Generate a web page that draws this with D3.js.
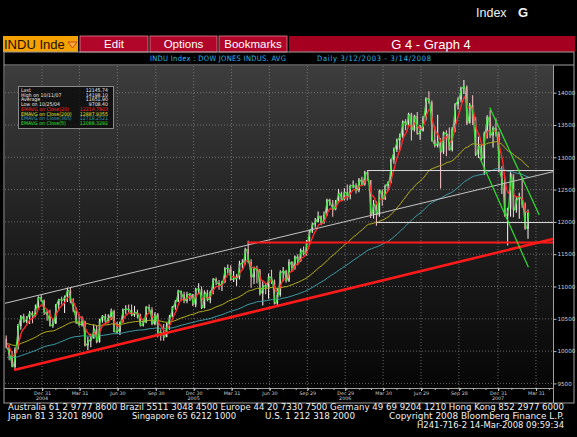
<!DOCTYPE html>
<html>
<head>
<meta charset="utf-8">
<script src="https://cdnjs.cloudflare.com/ajax/libs/d3/7.8.5/d3.min.js"></script>
<style>
body { margin: 0; background: #000; overflow: hidden; }
svg { display: block; }
</style>
</head>
<body>
<svg id="chart" width="577" height="437"></svg>
<script>
// weekly DJIA bars, week ending Fridays from 8 Oct 2004 to 14 Mar 2008
var weekStart = new Date(2004, 9, 8);
var weekStop = new Date(2008, 2, 15);
var firstOpen = 10192;

var closes = [
    10055, 9933, 9757, 10027, 10387, 10539, 10456, 10522, 10592, 10543, 10661, 10828, 10783,
    10603, 10558, 10393, 10427, 10716, 10796, 10785, 10841, 10940, 10774, 10629, 10442, 10404,
    10461, 10087, 10157, 10193, 10345, 10140, 10471, 10542, 10460, 10512, 10623, 10297, 10303,
    10449, 10640, 10651, 10641, 10558, 10600, 10559, 10398, 10447, 10679, 10641, 10420, 10569,
    10292, 10287, 10215, 10402, 10531, 10686, 10766, 10931, 10878, 10778, 10875, 10883, 10718,
    10959, 10959, 10667, 10907, 10793, 10919, 11115, 11061, 11022, 11076, 11279, 11280, 11109,
    11120, 11137, 11347, 11367, 11577, 11380, 11144, 11278, 11247, 10891, 11015, 10989, 11150,
    11091, 10739, 10868, 11219, 11240, 11089, 11381, 11284, 11464, 11392, 11560, 11508, 11679,
    11850, 11960, 12002, 12090, 11987, 12108, 12342, 12280, 12194, 12307, 12445, 12343, 12463,
    12398, 12556, 12566, 12487, 12653, 12580, 12768, 12647, 12114, 12276, 12110, 12481, 12354,
    12560, 12612, 12962, 13121, 13265, 13327, 13557, 13507, 13668, 13424, 13640, 13361, 13409,
    13612, 13908, 13851, 13265, 13182, 13240, 13079, 13379, 13358, 13113, 13442, 13821, 13896,
    14066, 14093, 13522, 13807, 13595, 13043, 13177, 12981, 13372, 13625, 13339, 13450, 13366,
    12800, 12607, 12099, 12207, 12743, 12182, 12348, 12381, 12266, 11894, 12145
];
var highs = [
    10240, 10090, 10000, 10060, 10420, 10560, 10580, 10540, 10620, 10620, 10720, 10850, 10870,
    10800, 10640, 10640, 10500, 10730, 10810, 10840, 10860, 10984, 10980, 10820, 10680, 10570,
    10540, 10470, 10220, 10270, 10410, 10400, 10500, 10560, 10580, 10570, 10660, 10640, 10450,
    10460, 10660, 10710, 10720, 10720, 10700, 10640, 10580, 10500, 10700, 10720, 10680, 10600,
    10590, 10340, 10420, 10440, 10560, 10700, 10790, 10950, 10940, 10920, 10920, 10900, 10880,
    10980, 11050, 11000, 10940, 10950, 10940, 11130, 11140, 11100, 11090, 11300, 11340, 11330,
    11240, 11190, 11400, 11420, 11600, 11709, 11420, 11310, 11320, 11270, 11080, 11060, 11200,
    11260, 11110, 10980, 11250, 11300, 11260, 11420, 11390, 11480, 11500, 11590, 11620, 11720,
    11880, 11990, 12060, 12160, 12100, 12160, 12360, 12360, 12340, 12340, 12510, 12470, 12520,
    12580, 12580, 12640, 12600, 12680, 12700, 12790, 12795, 12650, 12340, 12320, 12500, 12500,
    12580, 12630, 12980, 13150, 13290, 13370, 13570, 13590, 13690, 13690, 13660, 13700, 13500,
    13640, 13930, 14022, 13880, 13480, 13660, 13300, 13400, 13420, 13460, 13470, 13840, 13930,
    14090, 14198, 14110, 13840, 13960, 13620, 13320, 13190, 13400, 13650, 13727, 13480, 13600,
    13400, 12860, 12700, 12220, 12770, 12700, 12400, 12450, 12700, 12300, 12190
];
var lows = [
    10040, 9860, 9750, 9708, 10030, 10330, 10440, 10430, 10420, 10430, 10530, 10640, 10760,
    10560, 10470, 10380, 10360, 10420, 10640, 10720, 10590, 10760, 10740, 10600, 10420, 10380,
    10380, 10070, 10012, 10060, 10200, 10120, 10130, 10440, 10440, 10430, 10480, 10290, 10270,
    10250, 10440, 10570, 10600, 10540, 10530, 10510, 10380, 10380, 10430, 10600, 10400, 10400,
    10210, 10160, 10160, 10220, 10330, 10520, 10640, 10760, 10780, 10740, 10740, 10780, 10700,
    10680, 10900, 10650, 10660, 10770, 10740, 10880, 11020, 10950, 10930, 11050, 11200, 11090,
    11070, 11010, 11110, 11280, 11340, 11360, 10980, 11040, 11050, 10860, 10706, 10880, 10810,
    11040, 10720, 10684, 10840, 11080, 11060, 11070, 11230, 11260, 11330, 11380, 11480, 11480,
    11630, 11830, 11910, 11990, 11950, 11970, 12090, 12250, 12080, 12180, 12290, 12330, 12330,
    12330, 12350, 12520, 12440, 12460, 12570, 12560, 12630, 12060, 12050, 11939, 12080, 12250,
    12340, 12480, 12600, 12900, 13080, 13100, 13300, 13420, 13490, 13260, 13400, 13350, 13270,
    13400, 13570, 13830, 13240, 13150, 13150, 12518, 13050, 13020, 13100, 13090, 13390, 13740,
    13850, 13980, 13500, 13540, 13500, 13020, 12990, 12950, 12724, 13290, 13300, 13150, 13320,
    12770, 12430, 12080, 11634, 12080, 12070, 12140, 12050, 12220, 11880, 11740
];

// exponential averages on close: period in days and starting value at the left edge
var emaPeriods = [365, 200, 20, 5];
var emaSeeds = [9900, 10120, 10150, 10192];
var emaColors = ["#3c9ca8", "#b6ae1e", "#ff2a2a", "#3ee03e"];

// drawn studies: [start date, start value, end date, end value]
var supportLine = ["2004-10-25", 9708, "2008-05-11", 11735];
var channelLine = ["2004-10-03", 10740, "2008-05-11", 12777];
var redLevel = ["2006-05-10", 11680, "2008-05-11", 11680];
var whiteLevels = [["2007-02-20", 12795, "2008-05-11", 12795],
                   ["2007-03-14", 11990, "2008-05-11", 11990]];
var greenLines = [["2007-12-11", 13770, "2008-04-08", 12107],
                  ["2007-11-16", 13009, "2008-03-13", 11297]];

var tickDates = ["2004-12-31", "2005-03-31", "2005-06-30", "2005-09-30", "2005-12-30", "2006-03-31",
    "2006-06-30", "2006-09-29", "2006-12-29", "2007-03-30", "2007-06-29", "2007-09-28",
    "2007-12-31", "2008-03-31"];
var tickLabels = ["Dec 31", "Mar 31", "Jun 30", "Sep 30", "Dec 30", "Mar 31", "Jun 30", "Sep 29",
    "Dec 29", "Mar 30", "Jun 29", "Sep 28", "Dec 31", "Mar 31"];
var yearLabels = ["2004", "", "", "", "2005", "", "", "", "2006", "", "", "", "2007", ""];
var priceTicks = [9500, 10000, 10500, 11000, 11500, 12000, 12500, 13000, 13500, 14000];

var legendLabels = ["Last", "High on 10/11/07", "Average", "Low on 10/25/04",
    "EMAVG on Close(20)", "EMAVG on Close(200)", "EMAVG on Close(365)", "EMAVG on Close(5)"];
var legendValues = ["12145.74", "14198.10", "11651.90", "9708.40",
    "12214.7803", "12887.9355", "12718.2521", "12088.3292"];
var legendColors = ["#e8e8e8", "#e8e8e8", "#e8e8e8", "#e8e8e8", "#ff2020", "#e6e030", "#3c9ca8", "#30e030"];

var footer = [
    ["Australia 61 2 9777 8600 Brazil 5511 3048 4500 Europe 44 20 7330 7500 Germany 49 69 9204 1210 Hong Kong 852 2977 6000", 8, 410, 556],
    ["Japan 81 3 3201 8900", 8, 419, 95],
    ["Singapore 65 6212 1000", 132, 419, 104],
    ["U.S. 1 212 318 2000", 265, 419, 90],
    ["Copyright 2008 Bloomberg Finance L.P.", 389, 419, 175],
    ["H241-716-2 14-Mar-2008 09:59:34", 417, 428, 147]
];

var parse = d3.timeParse("%Y-%m-%d");
var svg = d3.select("#chart");
var plot = {left: 5, right: 553, top: 66, bottom: 388};

// ---------- header & toolbar ----------
svg.append("rect").attr("width", 577).attr("height", 437).attr("fill", "#000");
svg.append("text").attr("x", 476).attr("y", 17).attr("fill", "#f2f2f2")
    .attr("font-family", "Liberation Sans, Arial, sans-serif").attr("font-size", 12.5).text("Index");
svg.append("text").attr("x", 518).attr("y", 17).attr("fill", "#f2f2f2")
    .attr("font-family", "Liberation Sans, Arial, sans-serif").attr("font-size", 13).attr("font-weight", "bold").text("G");

svg.append("rect").attr("x", 3).attr("y", 36).attr("width", 75).attr("height", 16).attr("fill", "#f5a100");
svg.append("text").attr("x", 4).attr("y", 49).attr("fill", "#1a1000")
    .attr("font-family", "Liberation Sans, Arial, sans-serif").attr("font-size", 13).text("INDU Inde");
svg.append("path").attr("d", "M68,42 L77,42 L72.5,48 Z").attr("fill", "#f7b040").attr("stroke", "#c03010").attr("stroke-width", 0.8);

var buttons = [["Edit", 80, 68], ["Options", 150, 67], ["Bookmarks", 219, 68]];
buttons.forEach(function (b) {
    svg.append("rect").attr("x", b[1]).attr("y", 36).attr("width", b[2]).attr("height", 16)
        .attr("fill", "#b1062a").attr("stroke", "#e07f8e").attr("stroke-width", 0.8);
    svg.append("text").attr("x", b[1] + b[2] / 2).attr("y", 48).attr("text-anchor", "middle")
        .attr("fill", "#fff").attr("font-family", "Liberation Sans, Arial, sans-serif")
        .attr("font-size", 11.5).text(b[0]);
});
svg.append("rect").attr("x", 289).attr("y", 36).attr("width", 286).attr("height", 16).attr("fill", "#a5001f");
svg.append("text").attr("x", 431).attr("y", 49).attr("text-anchor", "middle").attr("fill", "#fff")
    .attr("font-family", "Liberation Sans, Arial, sans-serif").attr("font-size", 13).text("G 4 - Graph  4");

svg.append("text").attr("x", 150).attr("y", 61).attr("fill", "#2fb4e6")
    .attr("font-family", "DejaVu Sans Condensed, DejaVu Sans, sans-serif").attr("font-size", 7.5)
    .attr("textLength", 136).text("INDU Index : DOW JONES INDUS. AVG");
svg.append("text").attr("x", 317).attr("y", 61).attr("fill", "#2fb4e6")
    .attr("font-family", "DejaVu Sans Condensed, DejaVu Sans, sans-serif").attr("font-size", 7.5)
    .attr("textLength", 114).text("Daily  3/12/2003 - 3/14/2008");

// ---------- plot background ----------
var defs = svg.append("defs");
var grad = defs.append("linearGradient").attr("id", "bg").attr("x1", 0).attr("y1", 0).attr("x2", 0).attr("y2", 1);
grad.append("stop").attr("offset", "0%").attr("stop-color", "#3d3d3d");
grad.append("stop").attr("offset", "55%").attr("stop-color", "#1d1d1d");
grad.append("stop").attr("offset", "100%").attr("stop-color", "#060606");
defs.append("clipPath").attr("id", "clip").append("rect")
    .attr("x", plot.left).attr("y", plot.top).attr("width", plot.right - plot.left).attr("height", plot.bottom - plot.top);

svg.append("rect").attr("x", plot.left).attr("y", plot.top)
    .attr("width", plot.right - plot.left).attr("height", plot.bottom - plot.top).attr("fill", "url(#bg)");

// ---------- scales ----------
var x = d3.scaleTime()
    .domain([new Date(2004, 9, 3), new Date(2008, 4, 11)])
    .range([plot.left, plot.right]);
var y = d3.scaleLinear()
    .domain([9429, 14413])
    .range([plot.bottom, plot.top]);

var weeks = d3.timeFriday.range(weekStart, weekStop);
var n = Math.min(weeks.length, closes.length);
var bars = [];
for (var i = 0; i < n; i++) {
    bars.push({
        date: weeks[i],
        open: i === 0 ? firstOpen : closes[i - 1],
        close: closes[i], high: highs[i], low: lows[i]
    });
}

// grid
var grid = svg.append("g").attr("stroke", "#8c8c8c").attr("stroke-width", 0.7).attr("stroke-dasharray", "1,2");
grid.selectAll("line.v").data(tickDates).enter().append("line")
    .attr("x1", function (d) { return x(parse(d)); }).attr("x2", function (d) { return x(parse(d)); })
    .attr("y1", plot.top).attr("y2", plot.bottom);
grid.selectAll("line.h").data(priceTicks).enter().append("line")
    .attr("x1", plot.left).attr("x2", plot.right)
    .attr("y1", function (d) { return y(d); }).attr("y2", function (d) { return y(d); });

var g = svg.append("g").attr("clip-path", "url(#clip)");

// price bars
g.selectAll("line.hl").data(bars).enter().append("line")
    .attr("x1", function (d) { return x(d3.timeDay.offset(d.date, -2)); })
    .attr("x2", function (d) { return x(d3.timeDay.offset(d.date, -2)); })
    .attr("y1", function (d) { return y(d.high); })
    .attr("y2", function (d) { return y(d.low); })
    .attr("stroke", function (d) { return d.close >= d.open ? "#ece6e6" : "#eab8bd"; })
    .attr("stroke-width", 1.1);
g.selectAll("rect.body").data(bars).enter().append("rect")
    .attr("x", function (d) { return x(d3.timeDay.offset(d.date, -4)); })
    .attr("width", function (d) { return x(d.date) - x(d3.timeDay.offset(d.date, -4)); })
    .attr("y", function (d) { return y(Math.max(d.open, d.close)); })
    .attr("height", function (d) { return Math.max(0.8, Math.abs(y(d.open) - y(d.close))); })
    .attr("fill", function (d) { return d.close >= d.open ? "#e2dcdc" : "#e3a4ab"; })
    .attr("opacity", 0.85);

// exponential moving averages (5 trading days per week)
emaPeriods.forEach(function (p, k) {
    var alpha = Math.min(1, 2 / (p / 5 + 1));
    var prev = emaSeeds[k];
    var pts = bars.map(function (d) {
        prev = prev + alpha * (d.close - prev);
        return {date: d.date, v: prev};
    });
    var line = d3.line()
        .x(function (d) { return x(d.date); })
        .y(function (d) { return y(d.v); })
        .curve(d3.curveMonotoneX);
    g.append("path").datum(pts).attr("d", line).attr("fill", "none")
        .attr("stroke", emaColors[k]).attr("stroke-width", p === 20 ? 1.4 : (p === 5 ? 1.2 : 1));
});

// studies
function seg(s, color, w) {
    g.append("line")
        .attr("x1", x(parse(s[0]))).attr("y1", y(s[1]))
        .attr("x2", x(parse(s[2]))).attr("y2", y(s[3]))
        .attr("stroke", color).attr("stroke-width", w);
}
seg(channelLine, "#c4c4c4", 1);
whiteLevels.forEach(function (s) { seg(s, "#dcdcdc", 1); });
seg(redLevel, "#ff1a1a", 2);
seg(supportLine, "#ff1a1a", 2.6);
greenLines.forEach(function (s) { seg(s, "#2ee02e", 1.2); });

// ---------- axes ----------
var frame = svg.append("g").attr("stroke", "#a0a0a0").attr("fill", "none");
frame.append("rect").attr("x", 4).attr("y", 52).attr("width", 570).attr("height", 351).attr("stroke-width", 1);
frame.append("line").attr("x1", 4).attr("x2", 574).attr("y1", 65).attr("y2", 65);
frame.append("line").attr("x1", plot.right + 0.5).attr("x2", plot.right + 0.5).attr("y1", 65).attr("y2", 403);
frame.append("line").attr("x1", 4).attr("x2", plot.right).attr("y1", plot.bottom + 0.5).attr("y2", plot.bottom + 0.5);

var yAxis = svg.append("g").attr("transform", "translate(" + (plot.right + 0.5) + ",0)")
    .call(d3.axisRight(y).tickValues(priceTicks).tickSize(3).tickPadding(1).tickFormat(d3.format("d")));
yAxis.select(".domain").remove();
yAxis.selectAll("line").attr("stroke", "#bbb");
yAxis.selectAll("text").attr("fill", "#cfcfcf").attr("font-size", 5.6)
    .attr("font-family", "DejaVu Sans, sans-serif");

var xAxis = svg.append("g").attr("transform", "translate(0," + (plot.bottom + 0.5) + ")")
    .call(d3.axisBottom(x).ticks(d3.timeMonth.every(1)).tickSize(1.5).tickFormat(""));
xAxis.select(".domain").remove();
xAxis.selectAll("line").attr("stroke", "#bbb");

var qTicks = svg.append("g").attr("transform", "translate(0," + (plot.bottom + 0.5) + ")")
    .call(d3.axisBottom(x).tickValues(tickDates.map(parse)).tickSize(2.5).tickPadding(0.5)
        .tickFormat(function (d, i) { return tickLabels[i]; }));
qTicks.select(".domain").remove();
qTicks.selectAll("line").attr("stroke", "#ccc");
qTicks.selectAll("text").attr("fill", "#cfcfcf").attr("font-size", 4.8)
    .attr("font-family", "DejaVu Sans, sans-serif");

svg.append("g").selectAll("text").data(tickDates).enter().append("text")
    .attr("x", function (d) { return x(parse(d)); })
    .attr("y", 400)
    .attr("text-anchor", "middle")
    .attr("fill", "#cfcfcf").attr("font-size", 4.8).attr("font-family", "DejaVu Sans, sans-serif")
    .text(function (d, i) { return yearLabels[i]; });

// ---------- legend ----------
var lg = svg.append("g");
lg.append("rect").attr("x", 18.5).attr("y", 86.5).attr("width", 95).attr("height", 42)
    .attr("fill", "#0c0c0c").attr("fill-opacity", 0.85).attr("stroke", "#8a8a8a");
lg.selectAll("text.l").data(legendLabels).enter().append("text")
    .attr("x", 21).attr("y", function (d, i) { return 92 + i * 4.7; })
    .attr("fill", function (d, i) { return legendColors[i]; })
    .attr("font-size", 5.2).attr("font-family", "DejaVu Sans Condensed, DejaVu Sans, sans-serif")
    .text(function (d) { return d; });
lg.selectAll("text.v").data(legendValues).enter().append("text")
    .attr("x", 108).attr("y", function (d, i) { return 92 + i * 4.7; })
    .attr("text-anchor", "end")
    .attr("fill", function (d, i) { return legendColors[i]; })
    .attr("font-size", 5.2).attr("font-family", "DejaVu Sans Condensed, DejaVu Sans, sans-serif")
    .text(function (d) { return d; });

// ---------- footer ----------
svg.append("g").selectAll("text").data(footer).enter().append("text")
    .attr("x", function (d) { return d[1]; })
    .attr("y", function (d) { return d[2]; })
    .attr("textLength", function (d) { return d[3]; })
    .attr("lengthAdjust", "spacingAndGlyphs")
    .attr("fill", "#f0f0f0").attr("font-size", 8.2)
    .attr("font-family", "DejaVu Sans, sans-serif")
    .text(function (d) { return d[0]; });
</script>
</body>
</html>
